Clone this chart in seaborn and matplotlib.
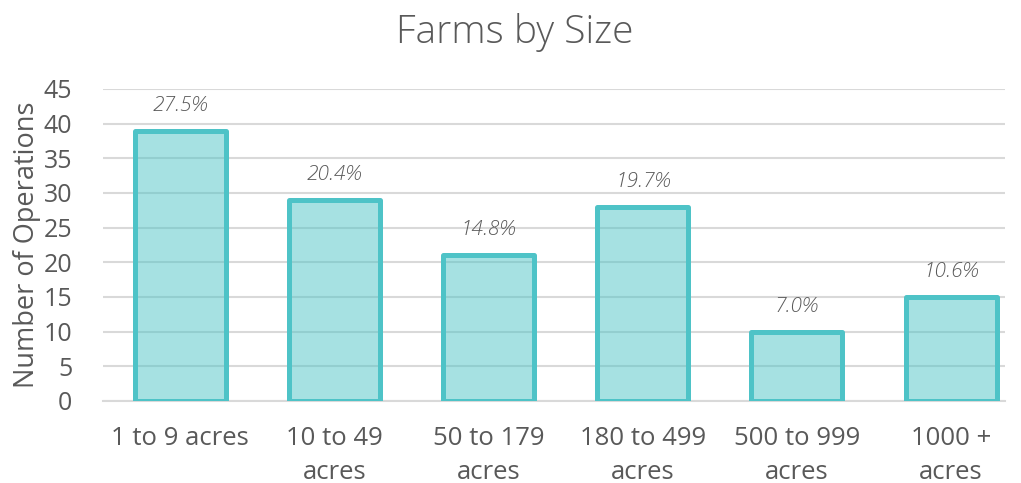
import matplotlib
matplotlib.use("Agg")
import matplotlib.pyplot as plt
import seaborn as sns
import pandas as pd

categories = ["1 to 9 acres", "10 to 49\nacres", "50 to 179\nacres", "180 to 499\nacres", "500 to 999\nacres", "1000 +\nacres"]
operations = [39, 29, 21, 28, 10, 15]
percent_labels = ["27.5%", "20.4%", "14.8%", "19.7%", "7.0%", "10.6%"]
yticks = [0, 5, 10, 15, 20, 25, 30, 35, 40, 45]

sns.set_style("white")
plt.rcParams['font.family'] = ['Open Sans', 'DejaVu Sans']

df = pd.DataFrame({"cat": categories, "ops": operations})

fig = plt.figure(figsize=(10.21, 4.83), dpi=100)
ax = fig.add_axes([103/1021, (483-401)/483, (1005-103)/1021, (401-89)/483])

sns.barplot(data=df, x="cat", y="ops", ax=ax, width=0.59,
            color="#4FC4C8", edgecolor="#4FC4C8", linewidth=3.6, saturation=1, zorder=3)
for p in ax.patches:
    p.set_facecolor((0.31, 0.77, 0.78, 0.5))
    p.set_edgecolor("#4EC3C7")
    p.set_joinstyle("round")

ax.set_xlim(-0.5, 5.35)
ax.set_ylim(0, 45)
ax.set_yticks(yticks)
ax.yaxis.grid(True, color="#D9D9D9", linewidth=1.5, zorder=0)
ax.set_axisbelow(True)
for s in ["top", "right", "left"]:
    ax.spines[s].set_visible(False)
ax.spines["bottom"].set_color("#D9D9D9")
ax.spines["bottom"].set_linewidth(1.5)
ax.tick_params(axis="both", length=0, labelsize=18, labelcolor="#595959")
ax.tick_params(axis="x", labelsize=18.5, pad=18)
ax.tick_params(axis="y", pad=22)
for lab in ax.get_xticklabels():
    lab.set_linespacing(1.45)
ax.set_xlabel("")
ax.set_ylabel("Number of Operations", fontsize=19.5, color="#595959", labelpad=2)

for i, (v, t) in enumerate(zip(operations, percent_labels)):
    ax.text(i, v + 3.6, t, ha="center", va="center", fontsize=15, style="italic",
            color="#595959", fontweight="light")

fig.text(515/1021, 1 - 33/483, "Farms by Size", ha="center", va="center",
         fontsize=28, color="#595959", fontweight="light")

fig.savefig("out.png", dpi=100, facecolor="white")
